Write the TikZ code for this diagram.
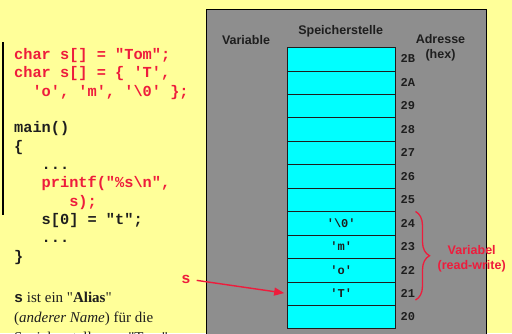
\documentclass[tikz,border=0pt]{standalone}
\usepackage{fontspec}
\setmainfont{Liberation Serif}[Ligatures=TeXOff]
\setsansfont{Liberation Sans}
\setmonofont{Liberation Mono}
\usetikzlibrary{arrows.meta,decorations.pathreplacing}
\definecolor{paper}{RGB}{255,255,153}
\definecolor{panel}{RGB}{142,142,142}
\definecolor{cellcyan}{RGB}{0,255,255}
\definecolor{codered}{RGB}{238,28,60}
\definecolor{ink}{RGB}{30,30,30}
\newcommand{\ind}[1]{\hspace*{#1\dimexpr 9.18pt\relax}}
\begin{document}
\begin{tikzpicture}[x=1pt, y=-1pt,
                cell/.style={draw=ink, fill=cellcyan, minimum width=107.7pt, minimum height=23.45pt,
                  inner sep=0pt, text=ink, font=\ttfamily\bfseries\fontsize{12}{14}\selectfont},
                addr/.style={anchor=west, inner sep=0pt, text=ink, font=\ttfamily\bfseries\fontsize{12}{14}\selectfont},
                head/.style={align=center, inner sep=0pt, text=ink, font=\sffamily\bfseries\fontsize{12.5}{15}\selectfont},
                ptr/.style={codered, line width=1.4pt, -{Triangle[length=10pt,width=8pt]}}
                ]
                \useasboundingbox (0,0) rectangle (512,333);
                \clip (0,0) rectangle (512,333);
                \fill[paper] (0,0) rectangle (512,333);
                % source code
                \draw[line width=1.4pt] (3,42) -- (3,215);
                \node[anchor=base west, inner sep=0pt, align=left, text=ink,
                  font=\ttfamily\bfseries\fontsize{15.3}{18.33}\selectfont] (code) at (14,261.1)
                  {\textcolor{codered}{char s[] = "Tom";}\\
                   \textcolor{codered}{char s[] = \{ 'T',}\\
                   \textcolor{codered}{\ind{2}'o', 'm', '\textbackslash0' \};}\\
                   \mbox{}\\
                   main()\\
                   \{\\
                   \ind{3}...\\
                   \ind{3}\textcolor{codered}{printf("\%s\textbackslash n",}\\
                   \ind{6}\textcolor{codered}{s);}\\
                   \ind{3}s[0] = "t";\\
                   \ind{3}...\\
                   \}};
                \node[anchor=base west, inner sep=0pt, align=left, text=ink,
                  font=\fontsize{15}{20}\selectfont] (alias) at (14,342.5)
                  {{\ttfamily\bfseries s} ist ein "\textbf{Alias}"\\
                   (\textit{anderer Name}) für die\\
                   Speicherstelle von "Tom"};
                % memory
                \draw[fill=panel, line width=0.8pt] (206.5,9.5) rectangle (486.5,345);
                \node[head] (hvar) at (246,40) {Variable};
                \node[head] (hcell) at (340.7,31) {Speicherstelle};
                \node[head] (haddr) at (440.5,47.5) {Adresse\\(hex)};
                \foreach \a/\v [count=\i from 0] in {2B/{},2A/{},29/{},28/{},27/{},26/{},25/{},
                    24/'\textbackslash0',23/'m',22/'o',21/'T',20/{}} {
                  \node[cell] (c\a) at (341.2,{58.98+23.45*\i}) {\v};
                  \node[addr] (a\a) at (400.5,{58.98+23.45*\i}) {\a};
                }
                \coordinate (btop) at (415.5,211.5);
                \coordinate (bbot) at (415.5,300);
                \draw[codered, line width=1.3pt, decorate, decoration={brace, amplitude=14pt}] (btop) -- (bbot);
                \node[head, text=codered] (rw) at (471.7,258.5) {Variabel\\(read-write)};
                \node[inner sep=0pt, text=codered, font=\ttfamily\bfseries\fontsize{15.3}{18}\selectfont] (svar) at (186,279.5) {s};
                \draw[ptr, shorten <=6pt, shorten >=3pt] (svar.east) -- (c21.west);
            \end{tikzpicture}
\end{document}
